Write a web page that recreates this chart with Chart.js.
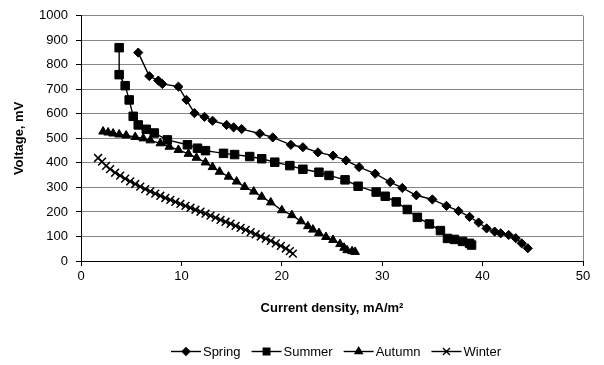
<!DOCTYPE html>
<html>
<head>
<meta charset="utf-8">
<script src="https://cdn.jsdelivr.net/npm/chart.js@4/dist/chart.umd.min.js"></script>
<style>
  html, body { margin: 0; padding: 0; background: #fff; }
</style>
</head>
<body>
<canvas id="chart" width="604" height="365"></canvas>
<script>
// Current density (mA/m²) and cell voltage (mV) per season
const springCurrent = [5.7, 6.8, 7.7, 8.1, 9.7, 10.5, 11.3, 12.3, 13.1, 14.5, 15.2, 16.0, 17.8, 19.1, 20.9, 22.1, 23.6, 25.1, 26.4, 27.7, 29.3, 30.8, 32.0, 33.4, 35.0, 36.4, 37.6, 38.7, 39.6, 40.4, 41.2, 41.8, 42.6, 43.3, 43.9, 44.5];
const springVoltage = [850, 754, 736, 722, 711, 657, 603, 588, 572, 555, 545, 538, 520, 504, 474, 464, 443, 430, 410, 383, 356, 322, 298, 268, 251, 225, 204, 180, 157, 133, 120, 113, 106, 93, 72, 52];

const summerCurrent = [3.8, 3.8, 4.4, 4.8, 5.2, 5.7, 6.5, 7.3, 8.6, 10.6, 11.6, 12.4, 14.2, 15.3, 16.8, 18.0, 19.3, 20.8, 22.1, 23.7, 24.7, 26.3, 27.6, 29.4, 30.3, 31.4, 32.5, 33.5, 34.7, 35.8, 36.5, 37.2, 38.0, 38.7, 38.9];
const summerVoltage = [870, 760, 715, 657, 590, 555, 537, 522, 494, 474, 460, 450, 439, 434, 426, 417, 403, 389, 374, 362, 349, 331, 305, 281, 264, 241, 210, 178, 151, 124, 92, 88, 80, 72, 65];

const autumnCurrent = [2.2, 2.7, 3.2, 3.8, 4.5, 5.4, 6.2, 6.9, 7.9, 8.8, 9.7, 10.7, 11.5, 12.4, 13.1, 13.8, 14.7, 15.5, 16.3, 17.2, 18.0, 18.9, 20.0, 21.0, 21.9, 22.6, 23.1, 23.7, 24.4, 25.1, 25.8, 26.2, 26.5, 27.0, 27.3];
const autumnVoltage = [528, 524, 520, 516, 512, 506, 500, 492, 480, 466, 453, 437, 421, 402, 383, 364, 344, 324, 302, 283, 262, 239, 207, 187, 162, 142, 128, 114, 98, 86, 69, 54, 44, 40, 37];

const winterCurrent = [1.7, 2.1, 2.5, 2.9, 3.4, 3.9, 4.4, 4.9, 5.4, 5.9, 6.4, 6.9, 7.4, 7.9, 8.4, 8.9, 9.4, 9.9, 10.4, 10.9, 11.4, 11.9, 12.4, 12.9, 13.4, 13.9, 14.4, 14.9, 15.4, 15.9, 16.4, 16.9, 17.4, 17.9, 18.4, 18.9, 19.4, 19.9, 20.4, 20.8, 21.1];
const winterVoltage = [420, 405, 388, 375, 360, 348, 336, 325, 314, 303, 293, 284, 275, 266, 257, 249, 241, 233, 225, 217, 209, 201, 193, 185, 177, 168, 160, 152, 143, 135, 127, 118, 109, 100, 91, 82, 72, 62, 51, 40, 30];

const seasonNames = ['Spring', 'Summer', 'Autumn', 'Winter'];
const xTickStep = 10;
const yTickStep = 100;

const FONT = "'Liberation Sans', Arial, Helvetica, sans-serif";

function pairs(xs, ys) {
  return xs.map((x, i) => ({ x: x, y: ys[i] }));
}

const markerStyles = [
  { pointStyle: 'rectRot', radius: 4.6, legendRadius: 3.8 },
  { pointStyle: 'rect', radius: 6, legendRadius: 4.6 },
  { pointStyle: 'triangle', radius: 5, legendRadius: 4.2 },
  { pointStyle: 'crossRot', radius: 5.5, legendRadius: 5 }
];

const seriesData = [
  pairs(springCurrent, springVoltage),
  pairs(summerCurrent, summerVoltage),
  pairs(autumnCurrent, autumnVoltage),
  pairs(winterCurrent, winterVoltage)
];

const datasets = seasonNames.map((name, i) => ({
  label: name,
  data: seriesData[i],
  showLine: true,
  borderColor: '#000',
  borderWidth: 1.4,
  backgroundColor: '#000',
  pointStyle: markerStyles[i].pointStyle,
  pointRadius: markerStyles[i].radius,
  pointHoverRadius: markerStyles[i].radius,
  pointBackgroundColor: '#000',
  pointBorderColor: '#000',
  pointBorderWidth: markerStyles[i].pointStyle === 'crossRot' ? 1.5 : 1,
  tension: 0
}));

// Thin grey frame on the right side of the plot area
const plotFrame = {
  id: 'plotFrame',
  beforeDatasetsDraw(chart) {
    const { ctx, chartArea: a } = chart;
    ctx.save();
    ctx.strokeStyle = '#868686';
    ctx.lineWidth = 1;
    ctx.beginPath();
    ctx.moveTo(Math.round(a.right) + 0.5, a.top);
    ctx.lineTo(Math.round(a.right) + 0.5, a.bottom);
    ctx.stroke();
    ctx.restore();
  }
};

// Legend row: short line with the series marker in its middle, then the name
const lineLegend = {
  id: 'lineLegend',
  afterDraw(chart) {
    const { ctx, chartArea: a } = chart;
    const lineLen = 30, textGap = 2, itemGap = 11, y = 351;
    ctx.save();
    ctx.font = '13px ' + FONT;
    ctx.textBaseline = 'middle';
    const widths = chart.data.datasets.map(d => lineLen + textGap + ctx.measureText(d.label).width);
    const total = widths.reduce((s, w) => s + w, 0) + itemGap * (widths.length - 1);
    let x = (a.left + a.right) / 2 + 4 - total / 2;
    chart.data.datasets.forEach((d, i) => {
      ctx.strokeStyle = '#000';
      ctx.fillStyle = '#000';
      ctx.lineWidth = 1.4;
      ctx.beginPath();
      ctx.moveTo(x, y + 0.5);
      ctx.lineTo(x + lineLen, y + 0.5);
      ctx.stroke();
      const m = markerStyles[i];
      Chart.helpers.drawPoint(ctx, {
        pointStyle: m.pointStyle,
        radius: m.legendRadius,
        rotation: 0,
        borderWidth: m.pointStyle === 'crossRot' ? 1.3 : 1
      }, x + lineLen / 2, y + 0.5);
      ctx.fillStyle = '#000';
      ctx.textAlign = 'left';
      ctx.fillText(d.label, x + lineLen + textGap, y + 1);
      x += widths[i] + itemGap;
    });
    ctx.restore();
  }
};

new Chart(document.getElementById('chart'), {
  type: 'scatter',
  data: { datasets: datasets },
  options: {
    responsive: false,
    animation: false,
    devicePixelRatio: 1,
    layout: { padding: { top: 14, right: 21, bottom: 44, left: 0 } },
    plugins: {
      legend: { display: false },
      tooltip: { enabled: false }
    },
    scales: {
      x: {
        type: 'linear',
        min: 0,
        max: 50,
        ticks: {
          stepSize: xTickStep, color: '#000', font: { family: FONT, size: 13 }, padding: 3, maxRotation: 0,
          callback: v => String(v)
        },
        grid: { drawOnChartArea: false, drawTicks: true, tickLength: 5, tickColor: '#000' },
        border: { color: '#000', width: 1 },
        title: {
          display: true,
          text: 'Current density, mA/m²',
          color: '#000',
          font: { family: FONT, size: 13, weight: 'bold' },
          padding: { top: 0, bottom: 5 }
        },
        afterFit(scale) { scale.height = 60; }
      },
      y: {
        type: 'linear',
        min: 0,
        max: 1000,
        ticks: {
          stepSize: yTickStep, color: '#000', font: { family: FONT, size: 13 }, padding: 8,
          callback: v => String(v)
        },
        grid: { color: '#868686', lineWidth: 1, tickColor: '#000', tickLength: 5 },
        border: { color: '#000', width: 1 },
        title: {
          display: true,
          text: 'Voltage, mV',
          color: '#000',
          font: { family: FONT, size: 13, weight: 'bold' },
          padding: { top: 12, bottom: 0 }
        },
        afterFit(scale) { scale.width = 81; }
      }
    }
  },
  plugins: [plotFrame, lineLegend]
});
</script>
</body>
</html>
